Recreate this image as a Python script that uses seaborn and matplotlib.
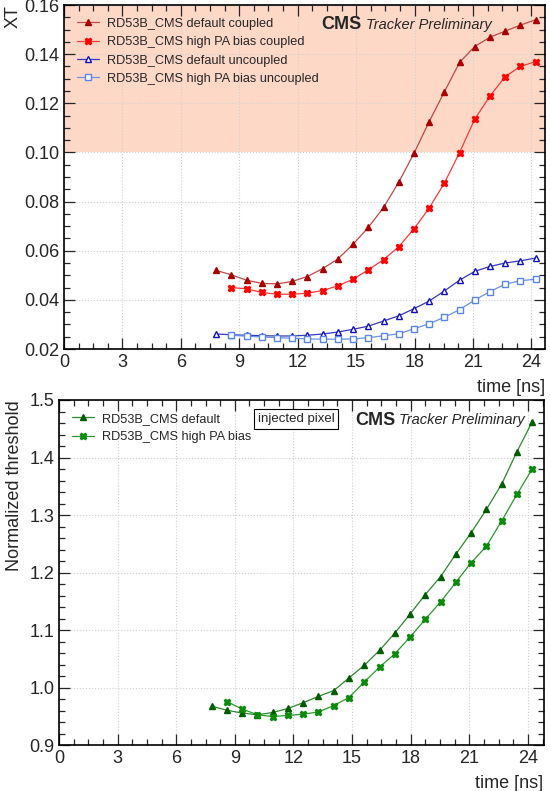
import numpy as np
import pandas as pd
import matplotlib
matplotlib.use("Agg")
import matplotlib.pyplot as plt
from matplotlib.ticker import MultipleLocator
import seaborn as sns

# time points [ns]
time_ns = [7.81, 8.59, 9.38, 10.16, 10.94, 11.72, 12.50, 13.28, 14.06, 14.84, 15.63,
           16.41, 17.19, 17.97, 18.75, 19.53, 20.31, 21.09, 21.88, 22.66, 23.44, 24.22]

# cross-talk (top panel)
xt_default_coupled = [0.0520, 0.0502, 0.0480, 0.0467, 0.0465, 0.0475, 0.0495, 0.0527, 0.0566,
                      0.0626, 0.0695, 0.0776, 0.0879, 0.0996, 0.1125, 0.1246, 0.1366, 0.1431,
                      0.1469, 0.1494, 0.1518, 0.1540]
xt_highpa_coupled = [0.0450, 0.0445, 0.0430, 0.0423, 0.0423, 0.0427, 0.0438, 0.0457, 0.0484,
                     0.0522, 0.0564, 0.0616, 0.0689, 0.0773, 0.0875, 0.0999, 0.1135, 0.1230,
                     0.1309, 0.1350, 0.1370]
xt_default_uncoupled = [0.0261, 0.0258, 0.0256, 0.0254, 0.0253, 0.0253, 0.0256, 0.0261, 0.0269,
                        0.0280, 0.0293, 0.0314, 0.0335, 0.0364, 0.0395, 0.0436, 0.0480, 0.0516,
                        0.0536, 0.0550, 0.0559, 0.0570]
xt_highpa_uncoupled = [0.0256, 0.0252, 0.0249, 0.0246, 0.0244, 0.0241, 0.0240, 0.0240, 0.0241,
                       0.0246, 0.0254, 0.0262, 0.0282, 0.0303, 0.0329, 0.0360, 0.0399, 0.0434,
                       0.0464, 0.0478, 0.0484]

# normalized threshold (bottom panel)
thr_default = [0.968, 0.961, 0.956, 0.953, 0.957, 0.964, 0.974, 0.985, 0.995, 1.017, 1.039,
               1.065, 1.095, 1.128, 1.162, 1.193, 1.232, 1.269, 1.310, 1.354, 1.410, 1.462]
thr_highpa = [0.976, 0.963, 0.953, 0.950, 0.952, 0.954, 0.958, 0.969, 0.983, 1.010, 1.036,
              1.059, 1.088, 1.119, 1.149, 1.183, 1.217, 1.246, 1.290, 1.336, 1.380]

sns.set_theme(style="ticks")
plt.rcParams["font.family"] = ["Liberation Sans", "DejaVu Sans"]
plt.rcParams["xtick.direction"] = "in"
plt.rcParams["ytick.direction"] = "in"

fig = plt.figure(figsize=(5.5, 7.91), dpi=100)
ax1 = fig.add_axes([64 / 550, 1 - 349 / 791, 481 / 550, 344 / 791])
ax2 = fig.add_axes([59 / 550, 1 - 745.3 / 791, 484.5 / 550, 345.3 / 791])


def draw(ax, x, y, color, line_color, marker, label, open_marker=False, ms=4.5):
    sns.lineplot(x=x, y=y, ax=ax, color=line_color, linewidth=0.9, label=label,
                 marker=marker, markersize=ms, markeredgecolor=color,
                 markerfacecolor="white" if open_marker else color,
                 markeredgewidth=1.0, sort=False)


# ---- top panel: cross-talk
ax1.axhspan(0.10, 0.16, color="#fdd8c7", zorder=0, lw=0)
draw(ax1, time_ns, xt_default_coupled, "#a80000", "#c04848", "^", "RD53B_CMS default coupled")
draw(ax1, time_ns[1:], xt_highpa_coupled, "#ff0000", "#ff3838", "X", "RD53B_CMS high PA bias coupled", ms=5)
draw(ax1, time_ns, xt_default_uncoupled, "#1010c0", "#3838c0", "^", "RD53B_CMS default uncoupled", open_marker=True)
draw(ax1, time_ns[1:], xt_highpa_uncoupled, "#5a86e8", "#6a92ec", "s", "RD53B_CMS high PA bias uncoupled", open_marker=True, ms=4)

ax1.set_xlim(0, 24.7)
ax1.set_ylim(0.02, 0.16)
ax1.yaxis.set_major_locator(MultipleLocator(0.02))
ax1.yaxis.set_minor_locator(MultipleLocator(0.005))
ax1.yaxis.set_major_formatter(matplotlib.ticker.FormatStrFormatter("%.2f"))
ax1.set_ylabel("XT", loc="top", fontsize=13, labelpad=2)

# ---- bottom panel: normalized threshold
draw(ax2, time_ns, thr_default, "#005c00", "#2a8a2a", "^", "RD53B_CMS default")
draw(ax2, time_ns[1:], thr_highpa, "#0a8a0a", "#2a9a2a", "X", "RD53B_CMS high PA bias", ms=5)

ax2.set_xlim(0, 24.8)
ax2.set_ylim(0.9, 1.5)
ax2.yaxis.set_major_locator(MultipleLocator(0.1))
ax2.yaxis.set_minor_locator(MultipleLocator(0.02))
ax2.yaxis.set_major_formatter(matplotlib.ticker.FormatStrFormatter("%.1f"))
ax2.set_ylabel("Normalized threshold", loc="top", fontsize=13, labelpad=4)

for ax in (ax1, ax2):
    ax.xaxis.set_major_locator(MultipleLocator(3))
    ax.xaxis.set_minor_locator(MultipleLocator(0.75))
    ax.set_xlabel("time [ns]", loc="right", fontsize=13, labelpad=6)
    ax.tick_params(which="both", top=True, right=True, labelsize=13, width=0.9)
    ax.tick_params(which="major", length=8)
    ax.tick_params(which="minor", length=4)
    ax.grid(True, which="major", color="#d0d0d0", linestyle=":", linewidth=0.8)
    ax.set_axisbelow(True)
    for s in ax.spines.values():
        s.set_linewidth(1.2)
        s.set_color("black")
    ax.legend(loc="upper left", frameon=False, fontsize=9.2, handlelength=1.7,
              borderaxespad=0.6, labelspacing=0.5, handletextpad=0.7)

cms1 = ax1.text(0.535, 0.942, "CMS", transform=ax1.transAxes, fontsize=13,
                fontweight="bold", va="center", ha="left")
ax1.annotate("Tracker Preliminary", xy=(1, 0.5), xycoords=cms1, xytext=(3, 0),
             textcoords="offset points", fontsize=10.5, style="italic", va="center", ha="left")

cms2 = ax2.text(0.611, 0.942, "CMS", transform=ax2.transAxes, fontsize=13,
                fontweight="bold", va="center", ha="left")
ax2.annotate("Tracker Preliminary", xy=(1, 0.5), xycoords=cms2, xytext=(3, 0),
             textcoords="offset points", fontsize=10.5, style="italic", va="center", ha="left")
ax2.text(0.489, 0.945, "injected pixel", transform=ax2.transAxes, fontsize=9.5,
         va="center", ha="center",
         bbox=dict(boxstyle="square,pad=0.3", facecolor="white", edgecolor="black", linewidth=0.8))

fig.savefig("out.png", dpi=100)
